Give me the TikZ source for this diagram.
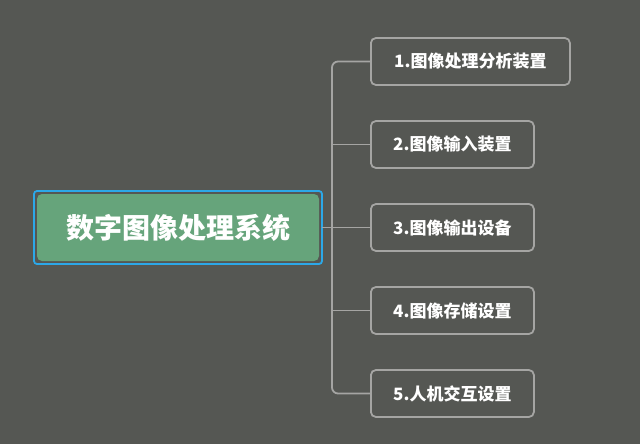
\documentclass[tikz,border=0pt]{standalone}
\usepackage{fontspec}
\newfontfamily\cjk{Noto Sans CJK SC}
\definecolor{bg}{RGB}{85,87,83}
\definecolor{rootgreen}{RGB}{102,164,123}
\definecolor{selblue}{RGB}{44,168,232}
\definecolor{linegray}{RGB}{165,165,163}
\begin{document}
\begin{tikzpicture}[x=1pt,y=-1pt,
  child/.style={draw=linegray, line width=1.8pt, rounded corners=5pt, anchor=west,
    minimum height=47pt, inner xsep=0pt, text=white, font=\cjk\bfseries\fontsize{17}{20}\selectfont},
  conn/.style={draw=linegray, line width=1.8pt, rounded corners=6pt}]
\fill[bg] (0,0) rectangle (640,444);
\useasboundingbox (0,0) rectangle (640,444);
% root
\draw[selblue, line width=1.8pt, rounded corners=3pt] (34,191) rectangle (322,264);
\node[fill=rootgreen, rounded corners=5pt, minimum width=282pt, minimum height=67pt,
  text=white, font=\cjk\bfseries\fontsize{28}{32}\selectfont] (root) at (178,227.5) {数字图像处理系统};
% children
\node[child, minimum width=199pt] (c1) at (370,61.5) {1.图像处理分析装置};
\node[child, minimum width=163pt] (c2) at (370,144.5) {2.图像输入装置};
\node[child, minimum width=163pt] (c3) at (370,227.5) {3.图像输出设备};
\node[child, minimum width=163pt] (c4) at (370,310.5) {4.图像存储设置};
\node[child, minimum width=163pt] (c5) at (370,393.5) {5.人机交互设置};
% connectors
\draw[conn] (322,227.5) -- (c3.west);
\draw[conn] (c1.west) -- (332,61.5) -- (332,393.5) -- (c5.west);
\draw[conn] (332,144.5) -- (c2.west);
\draw[conn] (332,310.5) -- (c4.west);
\end{tikzpicture}
\end{document}
